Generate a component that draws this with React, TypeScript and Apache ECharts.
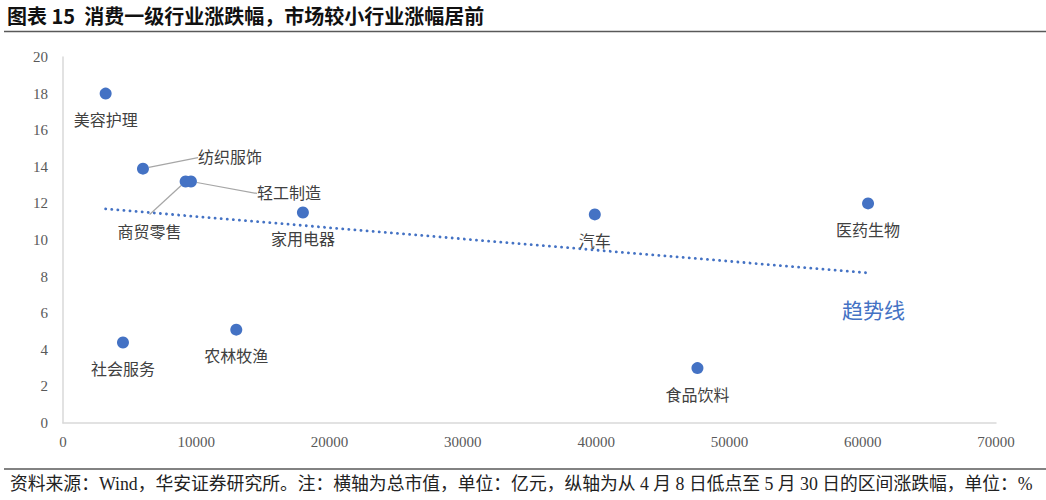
import React, { useEffect, useRef } from "react";
import * as echarts from "echarts";

const industries = ["美容护理", "纺织服饰", "商贸零售", "轻工制造", "家用电器", "汽车", "医药生物", "社会服务", "农林牧渔", "食品饮料"];
const marketCap = [3200, 6000, 9200, 9600, 18000, 39900, 60400, 4500, 13000, 47600];
const changePct = [18.0, 13.9, 13.2, 13.2, 11.5, 11.4, 12.0, 4.4, 5.1, 3.0];
const trendX = [3200, 60400];
const trendY = [11.7, 8.2];

const titleText = "图表 15  消费一级行业涨跌幅，市场较小行业涨幅居前";
const sourceText = "资料来源：Wind，华安证券研究所。注：横轴为总市值，单位：亿元，纵轴为从 4 月 8 日低点至 5 月 30 日的区间涨跌幅，单位：%";
const trendText = "趋势线";

// label offsets (pixels) for labels with leader lines
const leaderLabels: Record<string, { position: string; dx: number; dy: number; padding?: number[] }> = {
  "纺织服饰": { position: "right", dx: 44, dy: -11 },
  "轻工制造": { position: "right", dx: 55, dy: 12 },
  "商贸零售": { position: "bottom", dx: -36, dy: 22, padding: [10, 32, 0, 32] },
};

const BLUE = "#4472C4";
const FONT = "'Liberation Serif', 'Noto Sans CJK SC', serif";

export default function App() {
  const ref = useRef<HTMLDivElement>(null);
  useEffect(() => {
    if (!ref.current) return;
    const chart = echarts.init(ref.current, null, { renderer: "svg" });
    const scatterData = industries.map((name, i) => {
      const leader = leaderLabels[name];
      return {
        name,
        value: [marketCap[i], changePct[i]],
        label: leader
          ? leader.padding
            ? { position: leader.position, distance: 5, padding: leader.padding, backgroundColor: "rgba(255,255,255,0)" }
            : { position: leader.position, distance: 5 }
          : { position: "bottom", distance: 13 },
        labelLine: { show: !!leader },
      };
    });
    chart.setOption({
      animation: false,
      grid: { left: 63, right: 50, top: 57, bottom: 77, containLabel: false },
      xAxis: {
        type: "value",
        min: 0,
        max: 70000,
        interval: 10000,
        splitLine: { show: false },
        axisTick: { show: false },
        axisLine: { show: true, lineStyle: { color: "#d9d9d9", width: 1.5 } },
        axisLabel: { color: "#595959", fontSize: 15, fontFamily: FONT, margin: 11, formatter: (v: number) => String(v) },
      },
      yAxis: {
        type: "value",
        min: 0,
        max: 20,
        interval: 2,
        splitLine: { show: false },
        axisTick: { show: false },
        axisLine: { show: true, lineStyle: { color: "#d9d9d9", width: 1.5 } },
        axisLabel: { color: "#595959", fontSize: 15, fontFamily: FONT, margin: 15 },
      },
      series: [
        {
          type: "line",
          data: trendX.map((x, i) => [x, trendY[i]]),
          symbol: "none",
          silent: true,
          lineStyle: { color: BLUE, width: 2.8, type: [0.1, 6], cap: "round" },
          z: 1,
        },
        {
          type: "scatter",
          data: scatterData,
          symbolSize: 12,
          itemStyle: { color: BLUE, opacity: 1 },
          z: 3,
          label: {
            show: true,
            formatter: "{b}",
            color: "#404040",
            fontSize: 16,
            fontFamily: FONT,
          },
          labelLine: { lineStyle: { color: "#a6a6a6", width: 1.2 }, smooth: false },
          labelLayout: (params: any) => {
            const leader = leaderLabels[industries[params.dataIndex]];
            if (leader) return { dx: leader.dx, dy: leader.dy };
            return {};
          },
        },
      ],
      graphic: [
        {
          type: "text",
          left: 7,
          top: 5,
          style: { text: titleText, fontSize: 20, fontWeight: "bold", fill: "#111", fontFamily: "'Noto Sans CJK SC', sans-serif" },
        },
        {
          type: "line",
          shape: { x1: 4, y1: 31.5, x2: 1046, y2: 31.5 },
          style: { stroke: "#595959", lineWidth: 1.5 },
        },
        {
          type: "text",
          left: 842,
          top: 298,
          style: { text: trendText, fontSize: 21, fill: BLUE, fontFamily: "'Noto Sans CJK SC', sans-serif" },
        },
        {
          type: "line",
          shape: { x1: 4, y1: 469, x2: 1046, y2: 469 },
          style: { stroke: "#595959", lineWidth: 1.5 },
        },
        {
          type: "text",
          left: 10,
          top: 475,
          style: { text: sourceText, fontSize: 17.8, fill: "#222", fontFamily: "'Liberation Serif', 'Noto Sans CJK SC', serif" },
        },
      ],
    });
    return () => chart.dispose();
  }, []);
  return (
    <div
      ref={ref}
      style={{ position: "fixed", left: 0, top: 0, width: 1046, height: 500, background: "#fff" }}
    />
  );
}
